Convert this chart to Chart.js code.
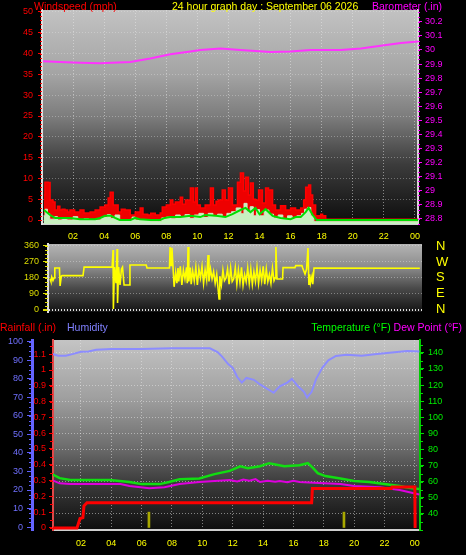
<!DOCTYPE html>
<html>
<head>
<meta charset="utf-8">
<script src="https://cdn.jsdelivr.net/npm/chart.js@4/dist/chart.umd.min.js"></script>
<style>
  body { margin: 0; background: #000; width: 466px; height: 555px; overflow: hidden; position: relative; }
  canvas { position: absolute; left: 0; }
  .t { position: absolute; font-family: 'Liberation Sans', Arial, sans-serif; font-size: 10.5px; line-height: 11px; white-space: nowrap; }
</style>
</head>
<body>
<canvas id="grafico-viento" width="466" height="243" style="top:0"></canvas>
<canvas id="grafico-direccion" width="466" height="80" style="top:238px"></canvas>
<canvas id="grafico-lluvia" width="466" height="237" style="top:318px"></canvas>

<div class="t" style="left:34px;top:1px;color:#ff0000">Windspeed (mph)</div>
<div class="t" style="left:172px;top:1px;color:#ffff00">24 hour graph day : September 06 2026</div>
<div class="t" style="left:372px;top:1px;color:#ff00ff">Barometer (.in)</div>
<div class="t" style="left:0;top:322px;color:#ff0000">Rainfall (.in)</div>
<div class="t" style="left:67px;top:322px;color:#8080ff">Humidity</div>
<div class="t" style="right:4px;top:322px"><span style="color:#00ff00">Temperature (°F)</span> <span style="color:#ff00ff">Dew Point (°F)</span></div>

<script>
// Tick labels
const hourTicks = [2, 4, 6, 8, 10, 12, 14, 16, 18, 20, 22, 24];
const hourLabels = ["02", "04", "06", "08", "10", "12", "14", "16", "18", "20", "22", "00"];
const windTicks = [0, 5, 10, 15, 20, 25, 30, 35, 40, 45, 50];
const baroTicks = [28.8, 28.9, 29.0, 29.1, 29.2, 29.3, 29.4, 29.5, 29.6, 29.7, 29.8, 29.9, 30.0, 30.1, 30.2];
const dirTicks = [0, 90, 180, 270, 360];
const compassLabels = ["N", "E", "S", "W", "N"];
const humTicks = [0, 10, 20, 30, 40, 50, 60, 70, 80, 90, 100];
const rainTicks = [0, 0.1, 0.2, 0.3, 0.4, 0.5, 0.6, 0.7, 0.8, 0.9, 1.0, 1.1];
const tempTicks = [40, 50, 60, 70, 80, 90, 100, 110, 120, 130, 140];

// Barometer (inHg)
const baroTimes = [0.06, 1.16, 2.45, 3.74, 5.68, 6.97, 8.26, 9.55, 10.19, 11.48, 12.77, 14.71, 16.0, 17.29, 19.23, 20.52, 21.8, 23.1, 24.26];
const baroIn = [29.92, 29.915, 29.91, 29.905, 29.915, 29.94, 29.97, 29.99, 30.0, 30.01, 30.0, 29.985, 29.99, 30.0, 30.0, 30.01, 30.03, 30.05, 30.06];

// Wind gust (mph)
const gustTimes = [0.12, 0.19, 0.39, 0.52, 0.71, 0.84, 1.0, 1.15, 1.29, 1.48, 1.65, 1.8, 2.1, 2.45, 2.7, 3.1, 3.42, 3.74, 4.06, 4.26, 4.39, 4.58, 4.9, 5.1, 5.35, 5.68, 6.0, 6.32, 6.5, 6.8, 7.0, 7.29, 7.61, 7.74, 8.0, 8.26, 8.42, 8.58, 8.9, 9.05, 9.23, 9.55, 9.74, 9.87, 10.0, 10.19, 10.5, 10.84, 11.03, 11.2, 11.35, 11.6, 11.8, 12.0, 12.26, 12.58, 12.77, 12.97, 13.1, 13.29, 13.42, 13.6, 13.74, 13.94, 14.19, 14.39, 14.58, 14.84, 15.03, 15.35, 15.68, 16.0, 16.32, 16.65, 16.84, 16.97, 17.16, 17.29, 17.42, 17.61, 17.81, 17.94, 18.06, 18.26, 24.2];
const gustMph = [6, 9.1, 9, 4.8, 4.3, 2.4, 3.3, 2.4, 2.6, 2.4, 1.9, 2.4, 1.9, 2.4, 1.7, 1.9, 2.4, 3.1, 3.6, 5.3, 6.7, 3.6, 1.9, 2.6, 2.4, 1.2, 1.9, 2.9, 1.4, 1.2, 1.6, 1.2, 1.7, 3.1, 3.6, 4.8, 3.8, 4.3, 5.5, 3.8, 4.8, 7.7, 4.3, 7.7, 3.6, 2.9, 3.6, 7.7, 3.6, 4.5, 4.8, 7.2, 4.8, 7.7, 3.6, 9.1, 11.3, 7, 10.3, 6, 8.9, 5, 4.8, 7.2, 4.1, 7.7, 7.2, 3.6, 2.4, 3.4, 2.4, 2.9, 2.4, 2.9, 4.8, 7.9, 8.4, 6, 3.6, 1.0, 1.0, 1.4, 1.0, 0.2, 0.2];

// Wind speed (mph)
const speedTimes = [0.1, 0.2, 0.35, 0.5, 0.8, 1.0, 1.3, 1.6, 2.0, 2.3, 2.7, 3.0, 3.5, 3.8, 4.2, 4.4, 4.7, 5.0, 5.5, 5.8, 6.0, 6.5, 7.0, 7.5, 7.7, 8.0, 8.3, 8.6, 8.9, 9.2, 9.5, 9.8, 10.1, 10.4, 10.7, 11.0, 11.3, 11.6, 11.9, 12.2, 12.5, 12.8, 13.0, 13.2, 13.4, 13.6, 13.8, 14.0, 14.3, 14.6, 14.9, 15.2, 15.5, 15.8, 16.1, 16.4, 16.7, 16.9, 17.1, 17.3, 17.5, 24.2];
const speedMph = [1, 2.6, 1.5, 0.2, 0.8, 0, 0.6, 0, 0.8, 0, 0.3, 0, 0, 0.6, 1.3, 0.4, 1.2, 0, 0, 0.7, 0, 0, -0.3, -0.3, 0.5, 0.7, 0.3, 1.2, 0.6, 1.3, 0.4, 1.2, 1.6, 0.6, 1.6, 0.8, 1.4, 0.6, 1.6, 2, 2.9, 1.5, 4, 2, 3.2, 1, 2.5, 1, 2.4, 1.4, 0.5, 1.2, 0.3, 1, 0.4, 1, 1.6, 2.6, 3, 1, -0.4, -0.4];

// Average wind (mph)
const avgTimes = [0.13, 0.52, 0.84, 1.8, 2.45, 3.42, 3.74, 4.06, 4.45, 4.7, 5.0, 5.7, 6.0, 6.3, 6.97, 7.6, 7.9, 8.26, 8.9, 9.55, 10.19, 10.5, 11.2, 11.8, 12.26, 12.77, 13.1, 13.42, 13.74, 14.0, 14.39, 14.84, 15.35, 16.0, 16.32, 16.65, 16.97, 17.16, 17.42, 17.68, 24.2];
const avgMph = [2.4, 1.2, 0.5, 0.5, 0.2, 0.2, 0.5, 1, 1, 0.5, 0, 0, 0.5, 0.2, 0, 0, 0.5, 0.7, 0.7, 1, 0.7, 1.2, 1, 0.7, 1.4, 2.4, 2.9, 1.9, 2.9, 1.4, 2.6, 1, 0.5, 0.2, 0.7, 0.7, 1.9, 2.9, 1.2, 0, 0];

// Wind direction (degrees)
const dirTimes = [0.19, 0.25, 0.3, 0.38, 0.45, 0.5, 0.8, 0.84, 0.92, 0.97, 2.32, 2.39, 4.2, 4.26, 4.28, 4.35, 4.45, 4.52, 4.55, 4.62, 4.71, 4.8, 4.87, 4.97, 5.3, 5.35, 6.4, 6.45, 7.9, 7.94, 8.0, 8.06, 8.13, 8.2, 8.3, 8.38, 8.45, 8.5, 8.6, 8.7, 8.8, 8.9, 9.0, 9.05, 9.1, 9.15, 9.25, 9.3, 9.4, 9.5, 9.6, 9.7, 9.8, 9.9, 10.0, 10.1, 10.2, 10.3, 10.39, 10.45, 10.55, 10.65, 10.75, 10.85, 10.95, 11.1, 11.15, 11.25, 11.35, 11.45, 11.55, 11.65, 11.75, 11.85, 11.95, 12.05, 12.15, 12.25, 12.35, 12.45, 12.55, 12.65, 12.75, 12.85, 12.95, 13.05, 13.15, 13.25, 13.35, 13.45, 13.55, 13.65, 13.75, 13.85, 13.95, 14.05, 14.15, 14.25, 14.35, 14.45, 14.55, 14.65, 14.72, 14.77, 14.84, 15.2, 15.23, 16.0, 16.05, 16.45, 16.5, 16.65, 16.75, 16.84, 16.9, 16.95, 17.0, 17.1, 17.15, 17.23, 24.06];
const dirDeg = [175, 160, 185, 165, 180, 236, 236, 135, 190, 193, 193, 241, 241, 337, 5, 241, 150, 343, 39, 241, 140, 230, 241, 140, 140, 253, 253, 236, 236, 354, 250, 350, 240, 130, 210, 150, 235, 160, 245, 140, 225, 175, 240, 150, 354, 160, 238, 145, 220, 165, 240, 140, 230, 180, 245, 150, 225, 170, 309, 160, 230, 175, 215, 150, 200, 62, 190, 140, 225, 165, 180, 230, 145, 235, 160, 175, 238, 145, 225, 155, 240, 140, 200, 160, 235, 150, 230, 145, 215, 160, 240, 150, 225, 165, 245, 145, 230, 160, 200, 150, 235, 165, 180, 354, 174, 174, 238, 238, 249, 249, 236, 202, 230, 348, 140, 200, 150, 190, 145, 236, 234];

// Humidity (%)
const humTimes = [0.1, 0.5, 1.0, 1.5, 2.0, 2.5, 3.0, 4.0, 6.0, 8.0, 10.0, 10.5, 11.0, 11.3, 11.7, 12.0, 12.3, 12.6, 12.9, 13.4, 13.8, 14.4, 14.7, 15.1, 15.6, 15.9, 16.3, 16.7, 16.9, 17.2, 17.5, 17.9, 18.3, 18.8, 19.5, 20.5, 21.5, 22.5, 23.5, 24.3];
const humPct = [93.5, 92.5, 92.5, 93.5, 94.6, 94.8, 95.7, 96.2, 96.2, 96.5, 96.5, 96.5, 94.5, 92, 88, 86, 81, 78, 80.5, 79.5, 77, 74, 72.5, 76, 78, 80, 76, 73, 70, 73, 80, 86, 90, 92.4, 93, 92.5, 93.5, 94.3, 95, 94.8];

// Temperature (°F)
const tempTimes = [0.1, 0.6, 1.3, 3.3, 3.9, 5.2, 6.0, 7.2, 7.8, 8.5, 9.8, 10.8, 11.8, 12.5, 13.0, 13.8, 14.4, 15.4, 16.4, 16.95, 17.3, 17.6, 18.1, 19.1, 20.0, 21.0, 22.0, 23.0, 23.7, 24.3];
const tempF = [64.7, 62.2, 61, 61, 61, 59.8, 58.5, 58.5, 59.8, 61.5, 62, 64.7, 66.7, 69.6, 68.4, 69.6, 71.5, 69.6, 70.2, 71.5, 68.4, 65.3, 63.5, 62, 60.4, 59.8, 58.5, 57.3, 56, 55.4];

// Dew point (°F)
const dewTimes = [0.1, 0.6, 1.3, 4.6, 5.2, 6.5, 7.5, 8.5, 9.8, 10.8, 11.8, 12.3, 12.7, 13.1, 13.5, 13.8, 14.3, 14.8, 15.1, 15.6, 16.0, 16.4, 17.7, 19.1, 20.0, 21.7, 23.0, 24.3];
const dewF = [61, 59, 58.5, 58.5, 57.3, 56, 56.5, 58.5, 59.8, 60.4, 61, 60.2, 61.4, 60.6, 61.6, 59.8, 60.6, 59.9, 60.4, 59.6, 60.6, 59.8, 59.2, 58.5, 57.3, 56.5, 54.8, 52];

// Rainfall (in) and rain rate marks
const rainTimes = [0.16, 1.74, 1.94, 2.13, 2.2, 2.4, 17.2, 17.25, 22.45, 22.5, 24.0, 24.02];
const rainIn = [0, 0, 0.06, 0.065, 0.14, 0.16, 0.16, 0.25, 0.25, 0.26, 0.26, 0];
const rateTimes = [6.48, 19.33];
const rateIn = [0.1, 0.1];

const FUENTE = "'Liberation Sans Narrow', 'Liberation Sans', Arial, sans-serif";

function puntos(xs, ys) {
  return xs.map((x, i) => ({ x: x, y: ys[i] }));
}

function fijarTicks(valores) {
  return (scale) => { scale.ticks = valores.map((v) => ({ value: v })); };
}

// ancho fijo del eje vertical, sin relleno extra arriba/abajo
function anchoFijo(w) {
  return (s) => { s.width = w; s.paddingTop = 0; s.paddingBottom = 0; };
}

function altoFijo(h) {
  return (s) => { s.height = h; s.paddingLeft = 0; s.paddingRight = 0; };
}

// Fondo degradado del area de trazado
const fondoDegradado = {
  id: "fondoDegradado",
  beforeDraw(chart, args, opts) {
    const { ctx, chartArea: a } = chart;
    const g = ctx.createLinearGradient(0, a.top, 0, a.bottom);
    opts.stops.forEach((s) => g.addColorStop(s[0], s[1]));
    ctx.save();
    ctx.fillStyle = g;
    ctx.fillRect(a.left, a.top, a.right - a.left, a.bottom - a.top);
    ctx.restore();
  },
};

// Marcas menores en los ejes
const marcasMenores = {
  id: "marcasMenores",
  afterDraw(chart, args, opts) {
    const ctx = chart.ctx;
    (opts.list || []).forEach((m) => {
      const s = chart.scales[m.scale];
      ctx.save();
      ctx.strokeStyle = m.color;
      ctx.lineWidth = 1;
      ctx.beginPath();
      for (let v = Math.ceil(s.min / m.step) * m.step; v <= s.max; v += m.step) {
        const y = Math.round(s.getPixelForValue(v)) + 0.5;
        const x0 = s.position === "left" ? s.right - m.len : s.left;
        ctx.moveTo(x0, y);
        ctx.lineTo(x0 + m.len, y);
      }
      ctx.stroke();
      ctx.restore();
    });
  },
};

const rejilla = "rgba(235,235,235,0.5)";

function ejeX(min, max, alto, padding) {
  return {
    type: "linear",
    offset: false,
    min: min,
    max: max,
    afterBuildTicks: fijarTicks(hourTicks),
    afterFit: altoFijo(alto),
    grid: { color: rejilla, drawTicks: false, offset: false },
    border: { color: "#cfcfcf", width: 2, dash: [1, 2] },
    ticks: {
      color: "#ffff00",
      padding: padding,
      autoSkip: false,
      maxRotation: 0,
      font: { family: FUENTE, size: 9 },
      callback: (v, i) => hourLabels[i],
    },
  };
}

function opcionesBase(extra) {
  return Object.assign({
    responsive: false,
    animation: false,
    devicePixelRatio: 1,
    events: [],
  }, extra);
}

// Grafico de viento y barometro
function crearGraficoViento() {
  const ctx = document.getElementById("grafico-viento").getContext("2d");
  new Chart(ctx, {
    type: "line",
    data: {
      datasets: [
        { data: puntos(baroTimes, baroIn), yAxisID: "baro", borderColor: "#ff33ff", borderWidth: 2, pointRadius: 0 },
        { data: puntos(avgTimes, avgMph), yAxisID: "wind", borderColor: "#00dd00", borderWidth: 2, pointRadius: 0 },
        { data: puntos(speedTimes, speedMph), yAxisID: "wind", borderColor: "#c8f0c0", backgroundColor: "#c8f0c0", borderWidth: 1, pointRadius: 0, fill: "start", stepped: true },
        { data: puntos(gustTimes, gustMph), yAxisID: "wind", borderColor: "#ff0000", backgroundColor: "#ee0000", borderWidth: 1.5, pointRadius: 0, fill: "start", stepped: true },
      ],
    },
    options: opcionesBase({
      layout: { padding: { top: 10 } },
      plugins: {
        legend: { display: false },
        tooltip: { enabled: false },
        fondoDegradado: { stops: [[0, "#c2c2c2"], [0.3, "#a4a4a4"], [0.5, "#7c7c7c"], [0.72, "#3c3c3c"], [1, "#0c0c0c"]] },
        marcasMenores: { list: [
          { scale: "wind", step: 1, len: 2, color: "#ff0000" },
          { scale: "baro", step: 0.0333333, len: 2, color: "#ff00ff" },
        ] },
      },
      scales: {
        x: ejeX(0, 24.2, 19, 7),
        wind: {
          position: "left",
          min: -0.96,
          max: 50.48,
          afterBuildTicks: fijarTicks(windTicks),
          afterFit: anchoFijo(42),
          grid: { color: "rgba(235,235,235,0.35)", tickColor: "#ff0000", tickLength: 4 },
          border: { color: "#e0e0e0", width: 2, dash: [1, 2] },
          ticks: { color: "#ff0000", padding: 5, autoSkip: false, font: { family: FUENTE, size: 9 } },
        },
        baro: {
          position: "right",
          min: 28.764,
          max: 30.284,
          afterBuildTicks: fijarTicks(baroTicks),
          afterFit: anchoFijo(48),
          grid: { drawOnChartArea: false, tickColor: "#ff00ff", tickLength: 4 },
          border: { color: "#d8d8d8", width: 2 },
          ticks: { color: "#ff00ff", padding: 3, autoSkip: false, font: { family: FUENTE, size: 9 }, callback: (v) => String(+v.toFixed(1)) },
        },
      },
    }),
    plugins: [fondoDegradado, marcasMenores],
  });
}

// Grafico de direccion del viento
function crearGraficoDireccion() {
  const ctx = document.getElementById("grafico-direccion").getContext("2d");
  new Chart(ctx, {
    type: "line",
    data: {
      datasets: [
        { data: puntos(dirTimes, dirDeg), yAxisID: "dir", borderColor: "#ffff00", borderWidth: 1.6, pointRadius: 0 },
      ],
    },
    options: opcionesBase({
      layout: { padding: { top: 6, bottom: 6 } },
      plugins: {
        legend: { display: false },
        tooltip: { enabled: false },
        fondoDegradado: { stops: [[0, "#b4b4b4"], [0.35, "#8a8a8a"], [0.65, "#4a4a4a"], [1, "#141414"]] },
        marcasMenores: { list: [{ scale: "dir", step: 22.5, len: 3, color: "#dddd00" }] },
      },
      scales: {
        x: { type: "linear", min: 0.06, max: 24.2, display: false },
        dir: {
          position: "left",
          min: -12,
          max: 371,
          afterBuildTicks: fijarTicks(dirTicks),
          afterFit: anchoFijo(48),
          grid: {
            color: (c) => (c.tick && c.tick.value === 0 ? "#e0e0e0" : "rgba(235,235,235,0.4)"),
            lineWidth: (c) => (c.tick && c.tick.value === 0 ? 2 : 1),
            tickColor: "#dddd00",
            tickLength: 5,
          },
          border: { color: "#e0e0e0", width: 2, dash: [1, 2] },
          ticks: { color: "#dddd00", padding: 4, autoSkip: false, font: { family: FUENTE, size: 9 } },
        },
        brujula: {
          position: "right",
          min: -12,
          max: 371,
          afterBuildTicks: fijarTicks(dirTicks),
          afterFit: anchoFijo(44),
          grid: { drawOnChartArea: false, tickColor: "rgba(0,0,0,0)", tickLength: 14 },
          border: { display: false },
          ticks: { color: "#ffff00", padding: 0, autoSkip: false, font: { family: FUENTE, size: 13 }, callback: (v, i) => compassLabels[i] },
        },
      },
    }),
    plugins: [fondoDegradado, marcasMenores],
  });
}

// Grafico de lluvia, humedad, temperatura y punto de rocio
function crearGraficoLluvia() {
  const ctx = document.getElementById("grafico-lluvia").getContext("2d");
  new Chart(ctx, {
    type: "line",
    data: {
      datasets: [
        { data: puntos(rainTimes, rainIn), yAxisID: "rain", borderColor: "#ff0000", borderWidth: 3, pointRadius: 0 },
        { data: puntos(tempTimes, tempF), yAxisID: "temp", borderColor: "#11dd11", borderWidth: 2.5, pointRadius: 0 },
        { data: puntos(dewTimes, dewF), yAxisID: "temp", borderColor: "#dd00dd", borderWidth: 2, pointRadius: 0 },
        { data: puntos(humTimes, humPct), yAxisID: "hum", borderColor: "#8c8cff", borderWidth: 2, pointRadius: 0 },
        { type: "bar", data: puntos(rateTimes, rateIn), yAxisID: "rain", backgroundColor: "#a8a800", barThickness: 2 },
      ],
    },
    options: opcionesBase({
      layout: { padding: { top: 22 } },
      plugins: {
        legend: { display: false },
        tooltip: { enabled: false },
        fondoDegradado: { stops: [[0, "#c4c4c4"], [0.3, "#a0a0a0"], [0.55, "#707070"], [0.75, "#3c3c3c"], [1, "#0e0e0e"]] },
        marcasMenores: { list: [
          { scale: "hum", step: 2.5, len: 3, color: "#6060ff" },
          { scale: "rain", step: 0.05, len: 3, color: "#ff0000" },
          { scale: "temp", step: 5, len: 3, color: "#00dd00" },
        ] },
      },
      scales: {
        x: ejeX(0.16, 24.34, 25, 8),
        hum: {
          position: "left",
          weight: 1,
          min: -1.6,
          max: 101,
          afterBuildTicks: fijarTicks(humTicks),
          afterFit: anchoFijo(32),
          grid: { drawOnChartArea: false, tickColor: "#6060ff", tickLength: 5 },
          border: { color: "#6464ff", width: 3 },
          ticks: { color: "#7070ff", padding: 4, autoSkip: false, font: { family: FUENTE, size: 9 } },
        },
        rain: {
          position: "left",
          weight: 0,
          min: -0.013,
          max: 1.19,
          afterBuildTicks: fijarTicks(rainTicks),
          afterFit: anchoFijo(21),
          grid: { drawOnChartArea: false, tickColor: "#ff0000", tickLength: 4 },
          border: { color: "#e04848", width: 2 },
          ticks: { color: "#ff0000", padding: 3, autoSkip: false, font: { family: FUENTE, size: 9 }, callback: (v) => String(+v.toFixed(1)) },
        },
        temp: {
          position: "right",
          min: 30,
          max: 148,
          afterBuildTicks: fijarTicks(tempTicks),
          afterFit: anchoFijo(46),
          grid: { color: rejilla, tickColor: "#00dd00", tickLength: 4 },
          border: { color: "#00cc00", width: 2, dash: [1, 2] },
          ticks: { color: "#00ee00", padding: 4, autoSkip: false, font: { family: FUENTE, size: 9 } },
        },
      },
    }),
    plugins: [fondoDegradado, marcasMenores],
  });
}

document.addEventListener("DOMContentLoaded", () => {
  crearGraficoViento();
  crearGraficoDireccion();
  crearGraficoLluvia();
});
</script>
</body>
</html>
